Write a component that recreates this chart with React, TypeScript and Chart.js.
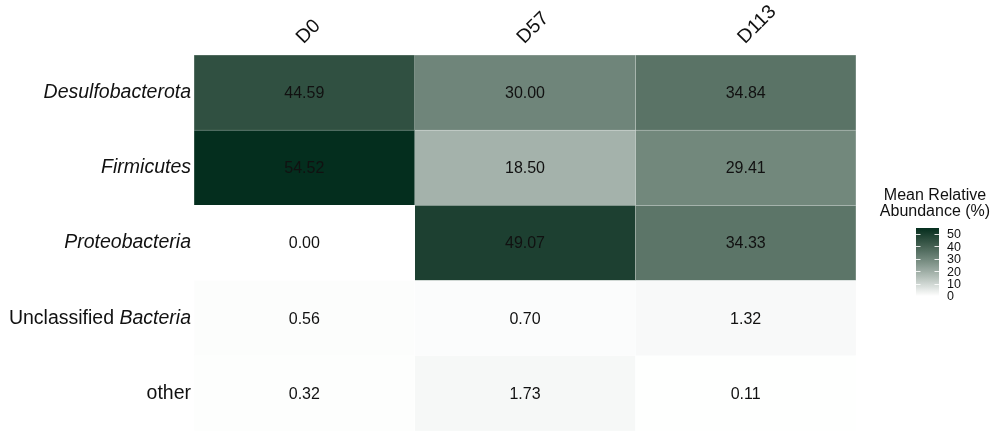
import React, { useEffect, useRef } from 'react';
import { Chart, registerables } from 'chart.js';

Chart.register(...registerables);

// ---------- data ----------
const columns = ['D0', 'D57', 'D113'];
const rowLabels = ['Desulfobacterota', 'Firmicutes', 'Proteobacteria', 'Unclassified Bacteria', 'other'];
const italicWords = ['Desulfobacterota', 'Firmicutes', 'Proteobacteria', 'Bacteria'];
const valuesD0 = [44.59, 54.52, 0.0, 0.56, 0.32];
const valuesD57 = [30.0, 18.5, 49.07, 0.7, 1.73];
const valuesD113 = [34.84, 29.41, 34.33, 1.32, 0.11];
const columnValues = [valuesD0, valuesD57, valuesD113];
const legendTicks = [0, 10, 20, 30, 40, 50];
const legendTitle = ['Mean Relative', 'Abundance (%)'];

const FONT = '"Liberation Sans", Arial, Helvetica, sans-serif';
const LOW: number[] = [255, 255, 255];
const HIGH: number[] = [4, 46, 30];
const VMIN = 0;
const VMAX = Math.max(...valuesD0, ...valuesD57, ...valuesD113);

// ---------- Lab colour interpolation ----------
function toLin(c: number) {
  c /= 255;
  return c <= 0.04045 ? c / 12.92 : Math.pow((c + 0.055) / 1.055, 2.4);
}
function fromLin(v: number) {
  const c = v <= 0.0031308 ? 12.92 * v : 1.055 * Math.pow(v, 1 / 2.4) - 0.055;
  return Math.round(Math.min(1, Math.max(0, c)) * 255);
}
function rgb2lab(rgb: number[]) {
  const R = toLin(rgb[0]), G = toLin(rgb[1]), B = toLin(rgb[2]);
  const X = (0.4124 * R + 0.3576 * G + 0.1805 * B) / 0.95047;
  const Y = 0.2126 * R + 0.7152 * G + 0.0722 * B;
  const Z = (0.0193 * R + 0.1192 * G + 0.9505 * B) / 1.08883;
  const f = (t: number) => (t > 0.008856 ? Math.cbrt(t) : 7.787 * t + 16 / 116);
  return [116 * f(Y) - 16, 500 * (f(X) - f(Y)), 200 * (f(Y) - f(Z))];
}
function lab2rgb(lab: number[]) {
  const fy = (lab[0] + 16) / 116;
  const fx = fy + lab[1] / 500;
  const fz = fy - lab[2] / 200;
  const finv = (t: number) => (t * t * t > 0.008856 ? t * t * t : (t - 16 / 116) / 7.787);
  const X = finv(fx) * 0.95047, Y = finv(fy), Z = finv(fz) * 1.08883;
  const R = 3.2406 * X - 1.5372 * Y - 0.4986 * Z;
  const G = -0.9689 * X + 1.8758 * Y + 0.0415 * Z;
  const B = 0.0557 * X - 0.204 * Y + 1.057 * Z;
  return [fromLin(R), fromLin(G), fromLin(B)];
}
const LOW_LAB = rgb2lab(LOW);
const HIGH_LAB = rgb2lab(HIGH);
function colorRgb(v: number) {
  const t = Math.min(1, Math.max(0, (v - VMIN) / (VMAX - VMIN)));
  return lab2rgb(LOW_LAB.map((l, i) => l + (HIGH_LAB[i] - l) * t));
}
function colorFor(v: number) {
  const c = colorRgb(v);
  return `rgb(${c[0]},${c[1]},${c[2]})`;
}
function borderFor(v: number) {
  const c = colorRgb(v);
  const m = c.map((x) => Math.round(x + (255 - x) * 0.6));
  return `rgb(${m[0]},${m[1]},${m[2]})`;
}

// ---------- plugins ----------
const cellTextPlugin = {
  id: 'cellText',
  afterDatasetsDraw(chart: any) {
    const { ctx } = chart;
    const xs = chart.scales.x;
    const ys = chart.scales.y;
    ctx.save();
    ctx.font = `16px ${FONT}`;
    ctx.fillStyle = '#111';
    ctx.textAlign = 'center';
    ctx.textBaseline = 'middle';
    columnValues.forEach((vals, c) => {
      vals.forEach((v, r) => {
        ctx.fillText(v.toFixed(2), xs.getPixelForValue(c + 0.5), ys.getPixelForValue(r) + 1);
      });
    });
    ctx.restore();
  },
};

const rowLabelPlugin = {
  id: 'rowLabels',
  afterDraw(chart: any) {
    const { ctx, chartArea } = chart;
    const ys = chart.scales.y;
    ctx.save();
    ctx.fillStyle = '#111';
    ctx.textBaseline = 'middle';
    ctx.textAlign = 'left';
    rowLabels.forEach((label, r) => {
      const words = label.split(' ');
      const segs = words.map((w, i) => ({
        text: (i > 0 ? ' ' : '') + w,
        italic: italicWords.includes(w),
      }));
      let total = 0;
      const widths = segs.map((s) => {
        ctx.font = `${s.italic ? 'italic ' : ''}19.5px ${FONT}`;
        const w = ctx.measureText(s.text).width;
        total += w;
        return w;
      });
      let x = chartArea.left - 3 - total;
      const y = ys.getPixelForValue(r);
      segs.forEach((s, i) => {
        ctx.font = `${s.italic ? 'italic ' : ''}19.5px ${FONT}`;
        ctx.fillText(s.text, x, y);
        x += widths[i];
      });
    });
    ctx.restore();
  },
};

const legendPlugin = {
  id: 'colorLegend',
  afterDraw(chart: any) {
    const { ctx } = chart;
    const cx = 935;
    const barL = 916, barR = 939, barTop = 228, barBot = 296;
    ctx.save();
    ctx.fillStyle = '#111';
    ctx.font = `16px ${FONT}`;
    ctx.textAlign = 'center';
    ctx.textBaseline = 'alphabetic';
    ctx.fillText(legendTitle[0], cx, 200);
    ctx.fillText(legendTitle[1], cx, 216);

    const grad = ctx.createLinearGradient(0, barBot, 0, barTop);
    const steps = 30;
    for (let i = 0; i <= steps; i++) {
      const v = VMIN + ((VMAX - VMIN) * i) / steps;
      grad.addColorStop(i / steps, colorFor(v));
    }
    ctx.fillStyle = grad;
    ctx.fillRect(barL, barTop, barR - barL, barBot - barTop);

    const yFor = (v: number) => barBot - ((v - VMIN) / (VMAX - VMIN)) * (barBot - barTop);
    ctx.strokeStyle = 'rgba(255,255,255,0.85)';
    ctx.lineWidth = 1;
    ctx.font = `12.5px ${FONT}`;
    ctx.textAlign = 'left';
    ctx.textBaseline = 'middle';
    ctx.fillStyle = '#111';
    legendTicks.forEach((t) => {
      const y = Math.round(yFor(t)) + 0.5;
      ctx.beginPath();
      ctx.moveTo(barL, y);
      ctx.lineTo(barL + 4.5, y);
      ctx.moveTo(barR - 4.5, y);
      ctx.lineTo(barR, y);
      ctx.stroke();
      ctx.fillText(String(t), barR + 8, yFor(t) + 1);
    });
    ctx.restore();
  },
};

export default function App() {
  const canvasRef = useRef<HTMLCanvasElement | null>(null);

  useEffect(() => {
    document.body.style.margin = '0';
    const canvas = canvasRef.current;
    if (!canvas) return;
    const chart = new Chart(canvas, {
      type: 'bar',
      data: {
        labels: rowLabels,
        datasets: columns.map((col, c) => ({
          label: col,
          data: rowLabels.map(() => [c, c + 1]),
          backgroundColor: columnValues[c].map(colorFor),
          borderColor: columnValues[c].map(borderFor),
          borderWidth: 0.6,
          borderSkipped: false,
          barPercentage: 1,
          categoryPercentage: 1,
          grouped: false,
        })) as any,
      },
      options: {
        indexAxis: 'y',
        animation: false,
        responsive: true,
        maintainAspectRatio: false,
        layout: { padding: { left: 0, right: 144, top: 0, bottom: 0 } },
        plugins: { legend: { display: false }, tooltip: { enabled: false } },
        scales: {
          x: {
            type: 'linear',
            position: 'top',
            min: 0,
            max: 3,
            grid: { display: false },
            border: { display: false },
            afterBuildTicks: (s: any) => {
              s.ticks = columns.map((_, i) => ({ value: i + 0.5 }));
            },
            afterFit: (s: any) => {
              s.height = 55;
            },
            ticks: {
              minRotation: 45,
              maxRotation: 45,
              padding: -2,
              labelOffset: 12,
              color: '#111',
              font: { family: FONT, size: 19.5 },
              callback: (_v: any, i: number) => columns[i],
            },
          },
          y: {
            type: 'category',
            grid: { display: false },
            border: { display: false },
            ticks: { display: false },
            afterFit: (s: any) => {
              s.width = 194;
            },
          },
        },
      } as any,
      plugins: [cellTextPlugin, rowLabelPlugin, legendPlugin],
    });
    return () => chart.destroy();
  }, []);

  return (
    <div style={{ position: 'absolute', left: 0, top: 0, width: 1000, height: 431 }}>
      <canvas ref={canvasRef} />
    </div>
  );
}
